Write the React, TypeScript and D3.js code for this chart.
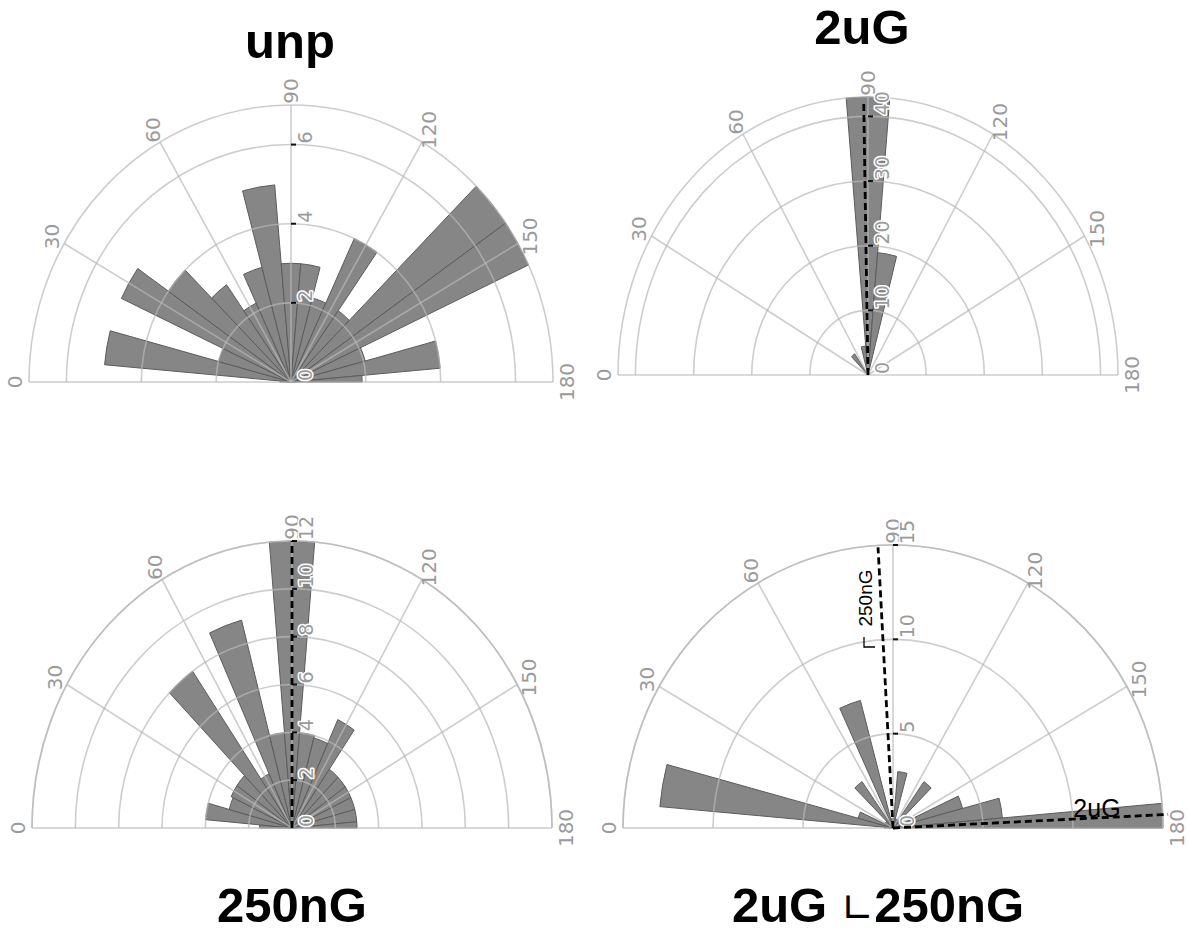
import React from 'react';
import * as d3 from 'd3';

// bin centres (deg), each bin is 10 deg wide
const binCenters = [0, 10, 20, 30, 40, 50, 60, 70, 80, 90, 100, 110, 120, 130, 140, 150, 160, 170, 180];
const angleTicks = [0, 30, 60, 90, 120, 150, 180];

const unpCounts = [0.3, 5, 2, 5, 4, 3, 2.2, 3, 5, 3, 3, 2.2, 4, 2.2, 7, 7, 2.05, 4, 1.9];
const uG2Counts = [0, 0, 0, 0, 0, 4, 0, 0, 4.5, 43, 19, 0, 0, 0, 0, 0, 0, 0, 0];
const nG250Counts = [1.5, 4, 3, 3.1, 3.1, 8, 2.5, 9, 4, 12, 4, 3.9, 5, 3, 3, 3, 3, 3, 3];
const bothCounts = [0.5, 13, 2, 0.5, 0.5, 3, 0.5, 7, 0.5, 0.5, 3, 0.5, 0.5, 3, 0.5, 0.5, 4, 6.1, 15];

const unpTicks = [0, 2, 4, 6];
const uG2Ticks = [0, 10, 20, 30, 40];
const nG250Ticks = [0, 2, 4, 6, 8, 10, 12];
const bothTicks = [0, 5, 10, 15];

const LABEL_FONT = '"DejaVu Sans", Verdana, sans-serif';
const TITLE_FONT = 'Arial, "Liberation Sans", sans-serif';

type Dash = { angle: number; value: number };

function Rose({ cx, cy, rx, ry, max, ticks, counts, dashes = [] as Dash[] }) {
  const r = d3.scaleLinear().domain([0, max]).range([0, rx]);
  const a = d3.scaleLinear().domain([0, 180]).range([-Math.PI / 2, Math.PI / 2]);
  const k = ry / rx;
  const arc = d3.arc();
  const half = 5;

  const bars = binCenters.map((c, i) => {
    const v = counts[i];
    if (!v) return null;
    const d = arc({
      innerRadius: 0,
      outerRadius: r(v),
      startAngle: a(Math.max(0, c - half)),
      endAngle: a(Math.min(180, c + half)),
    } as any);
    return <path key={'b' + c} d={d || ''} fill="#868686" stroke="#5c5c5c" strokeWidth={1} vectorEffect="non-scaling-stroke" />;
  });

  const rings = [...ticks.filter(t => t > 0), max].map(t => {
    const p = d3.path();
    p.arc(0, 0, r(t), Math.PI, 2 * Math.PI);
    return <path key={'r' + t} d={p.toString()} fill="none" stroke="rgba(184,184,184,0.7)" strokeWidth={1.6} vectorEffect="non-scaling-stroke" />;
  });

  const spokes = angleTicks.map(t => (
    <line key={'s' + t} x1={0} y1={0}
      x2={r(max) * Math.sin(a(t))} y2={-r(max) * Math.cos(a(t))}
      stroke="rgba(184,184,184,0.7)" strokeWidth={1.6} vectorEffect="non-scaling-stroke" />
  ));

  const angleLabels = angleTicks.map(t => {
    const x = cx + (rx + 14) * Math.sin(a(t));
    const y = cy - (ry + 14) * Math.cos(a(t));
    return (
      <text key={'al' + t} transform={`translate(${x},${y}) rotate(-90)`} textAnchor="middle"
        dominantBaseline="central" fontFamily={LABEL_FONT} fontSize={20} fill="#9a9a9a">{t}</text>
    );
  });

  const radialLabels = ticks.map(t => {
    const y = cy - r(t) * k;
    return (
      <g key={'rl' + t}>
        {t > 0 && <line x1={cx} x2={cx + 5} y1={y} y2={y} stroke="#111" strokeWidth={2} />}
        <text transform={`translate(${cx + 21},${y - 1}) rotate(-90)`} textAnchor="start"
          fontFamily={LABEL_FONT} fontSize={19} fill="#9a9a9a" stroke="#fff" strokeWidth={3}
          paintOrder="stroke" strokeLinejoin="round">{t}</text>
      </g>
    );
  });

  const dashLines = dashes.map((d, i) => (
    <line key={'d' + i} x1={cx} y1={cy}
      x2={cx + r(d.value) * Math.sin(a(d.angle))} y2={cy - r(d.value) * k * Math.cos(a(d.angle))}
      stroke="#000" strokeWidth={2.8} strokeDasharray="7,4" />
  ));

  return (
    <g>
      <g transform={`translate(${cx},${cy}) scale(1,${k})`}>
        {bars}
        {rings}
        {spokes}
      </g>
      {angleLabels}
      {radialLabels}
      {dashLines}
    </g>
  );
}

export default function App() {
  return (
    <svg width={1188} height={938} style={{ display: 'block', position: 'absolute', left: 0, top: 0, background: '#fff' }}>
      <rect width={1188} height={938} fill="#fff" />
      <Rose cx={291} cy={382} rx={262} ry={277} max={7} ticks={unpTicks} counts={unpCounts} />
      <Rose cx={868} cy={375} rx={250} ry={278} max={43} ticks={uG2Ticks} counts={uG2Counts}
        dashes={[{ angle: 89, value: 42.5 }]} />
      <Rose cx={292} cy={828} rx={260} ry={287} max={12} ticks={nG250Ticks} counts={nG250Counts}
        dashes={[{ angle: 90, value: 12 }]} />
      <Rose cx={893} cy={828} rx={270} ry={283} max={15} ticks={bothTicks} counts={bothCounts}
        dashes={[{ angle: 86.8, value: 14.9 }, { angle: 177.3, value: 15.3 }]} />

      {/* annotations in the combined panel */}
      <text transform="translate(872,598) rotate(-90)" textAnchor="middle" fontFamily={TITLE_FONT} fontSize={19} fill="#000">250nG</text>
      <path d="M864,637V647H875" fill="none" stroke="#000" strokeWidth={1.3} />
      <text x={1097} y={817} textAnchor="middle" fontFamily={TITLE_FONT} fontSize={25} fill="#000">2uG</text>

      <g fontFamily={TITLE_FONT} fontWeight="bold" fontSize={49} fill="#000" textAnchor="middle">
        <text x={290} y={58}>unp</text>
        <text x={862} y={44}>2uG</text>
        <text x={292} y={922}>250nG</text>
        <text x={878} y={922}>2uG <tspan fontWeight="normal" fontFamily={LABEL_FONT} fontSize={40}>∟</tspan>250nG</text>
      </g>
    </svg>
  );
}
